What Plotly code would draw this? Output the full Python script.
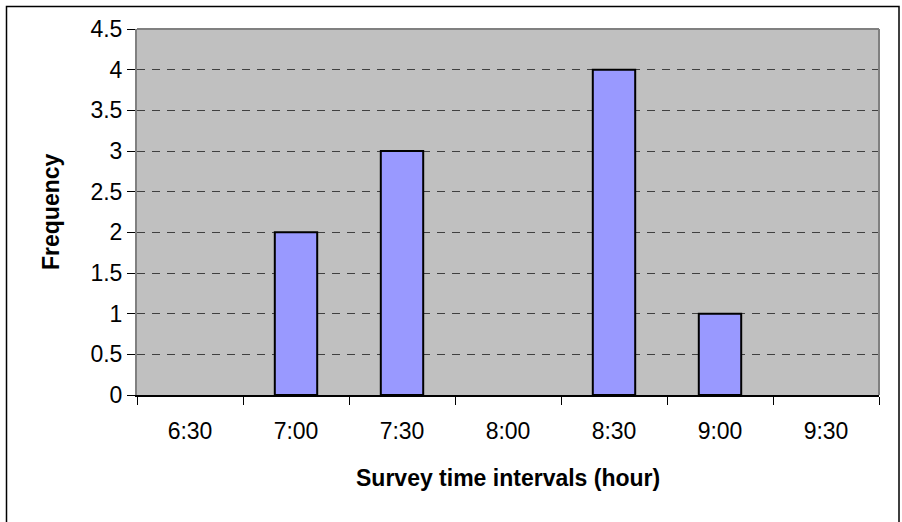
import plotly.graph_objects as go

categories = ["6:30", "7:00", "7:30", "8:00", "8:30", "9:00", "9:30"]
frequency = [0, 2, 3, 0, 4, 1, 0]
y_ticks = [0, 0.5, 1, 1.5, 2, 2.5, 3, 3.5, 4, 4.5]
y_tick_labels = ["0", "0.5", "1", "1.5", "2", "2.5", "3", "3.5", "4", "4.5"]
x_title = "Survey time intervals (hour)"
y_title = "Frequency"

FONT = "Liberation Sans, Arial, sans-serif"
FS = 23

W, H = 902, 522
L, R, T, B = 137, 23, 29, 127
pw = W - L - R
ph = H - T - B

fig = go.Figure()
fig.add_trace(go.Bar(
    x=categories, y=frequency,
    marker=dict(color="#9999FF",
                line=dict(color="black", width=[2 if v else 0 for v in frequency])),
    width=0.4,
    hoverinfo="skip",
))

def px_x(p):
    return (p - L) / pw

def px_y(p):
    return (H - B - p) / ph

fig.update_layout(
    width=W, height=H,
    margin=dict(l=L, r=R, t=T, b=B, autoexpand=False),
    paper_bgcolor="white",
    plot_bgcolor="#C0C0C0",
    showlegend=False,
    font=dict(family=FONT, size=FS, color="black"),
    xaxis=dict(
        type="category",
        tickson="boundaries",
        ticks="outside", ticklen=8, tickwidth=1, tickcolor="black",
        showline=True, linecolor="black", linewidth=2,
        showgrid=False,
        ticklabelstandoff=14,
        tickfont=dict(size=FS),
        range=[-0.5, 6.5],
    ),
    yaxis=dict(
        range=[0, 4.5],
        tickvals=y_ticks, ticktext=y_tick_labels,
        ticks="outside", ticklen=8, tickwidth=1, tickcolor="black",
        showline=True, linecolor="#808080", linewidth=2,
        showgrid=True, gridcolor="#404040", gridwidth=1, griddash="8px,7px",
        zeroline=False,
        tickfont=dict(size=FS),
    ),
    shapes=[
        dict(type="line", xref="paper", yref="paper", x0=0, x1=1, y0=1, y1=1,
             line=dict(color="#808080", width=2)),
        dict(type="line", xref="paper", yref="paper", x0=1, x1=1, y0=0, y1=1,
             line=dict(color="#808080", width=2)),
        dict(type="rect", xref="paper", yref="paper",
             x0=px_x(6.5), x1=px_x(899), y0=px_y(540), y1=px_y(6.5),
             line=dict(color="black", width=1.5), fillcolor="rgba(0,0,0,0)"),
    ],
    annotations=[
        dict(text=f"<b>{x_title}</b>", xref="paper", yref="paper",
             x=0.5, y=0, yshift=-(478 - (H - B)), xanchor="center", yanchor="middle",
             showarrow=False, font=dict(size=FS, family=FONT)),
        dict(text=f"<b>{y_title}</b>", xref="paper", yref="paper",
             x=0, y=0.5, xshift=-(L - 51), xanchor="center", yanchor="middle",
             textangle=-90, showarrow=False, font=dict(size=FS, family=FONT)),
    ],
)

fig.write_html(
    "out.html",
    config={"displayModeBar": False},
    post_script="document.body.style.margin='0';document.body.style.overflow='hidden';",
)
